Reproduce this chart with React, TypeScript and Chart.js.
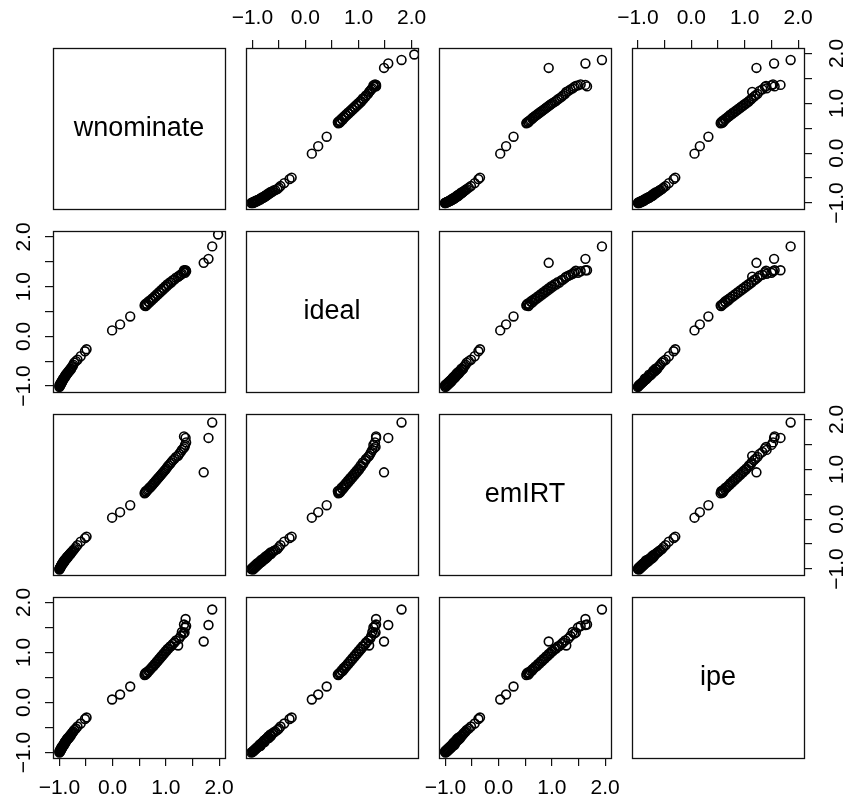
import React, { useEffect, useRef } from 'react';
import { Chart, registerables } from 'chart.js';

Chart.register(...registerables);

// ---- data (one entry per legislator; null = missing) ----
const VARIABLES = ['wnominate', 'ideal', 'emIRT', 'ipe'];

const wnominate = [
  -1.00, -1.00, -0.99, -0.99, -0.98, -0.98, -0.97, -0.97, -0.96, -0.96,
  -0.95, -0.95, -0.94, -0.93, -0.93, -0.92, -0.91, -0.91, -0.90, -0.89,
  -0.89, -0.88, -0.87, -0.86, -0.86, -0.85, -0.84, -0.83, -0.82, -0.81,
  -0.80, -0.79, -0.78, -0.77, -0.75, -0.74, -0.72, -0.69, -0.66, -0.60,
  -0.52, -0.49,
  -0.01, 0.14, 0.33,
  0.60, 0.61, 0.62, 0.63, 0.65, 0.67, 0.69, 0.71, 0.73, 0.75,
  0.77, 0.79, 0.81, 0.83, 0.85, 0.87, 0.89, 0.91, 0.93, 0.95,
  0.97, 0.99, 1.01, 1.03, 1.05, 1.08, 1.10, 1.13, 1.16, 1.19,
  1.23, 1.25, 1.28, 1.30, 1.33, 1.35, 1.36, 1.37, 1.38, 1.34,
  1.98, 1.87, 1.80, 1.71,
];

const ideal = [
  -1.02, -0.99, -1.00, -0.97, -0.98, -0.95, -0.96, -0.93, -0.94, -0.91,
  -0.92, -0.89, -0.90, -0.87, -0.85, -0.86, -0.83, -0.84, -0.81, -0.82,
  -0.79, -0.77, -0.78, -0.75, -0.76, -0.73, -0.74, -0.71, -0.69, -0.70,
  -0.67, -0.65, -0.66, -0.62, -0.60, -0.57, -0.53, -0.50, -0.47, -0.40,
  -0.30, -0.26,
  0.12, 0.24, 0.40,
  0.62, 0.64, 0.61, 0.66, 0.64, 0.70, 0.68, 0.73, 0.72, 0.77,
  0.76, 0.81, 0.80, 0.85, 0.84, 0.89, 0.88, 0.93, 0.92, 0.97,
  0.96, 1.01, 1.00, 1.05, 1.04, 1.09, 1.08, 1.13, 1.14, 1.18,
  1.20, 1.22, 1.24, 1.26, 1.29, 1.32, 1.28, 1.33, 1.31, 1.33,
  2.05, 1.81, 1.56, 1.48,
];

const emIRT = [
  -1.00, -1.01, -0.98, -0.99, -0.96, -0.97, -0.94, -0.95, -0.92, -0.93,
  -0.90, -0.91, -0.88, -0.89, -0.87, -0.85, -0.86, -0.83, -0.84, -0.81,
  -0.82, -0.80, -0.78, -0.79, -0.76, -0.77, -0.74, -0.75, -0.72, -0.71,
  -0.69, -0.70, -0.67, -0.66, -0.64, -0.62, -0.60, -0.56, -0.52, -0.45,
  -0.38, -0.35,
  0.03, 0.14, 0.28,
  0.52, 0.53, 0.56, 0.55, 0.58, 0.60, 0.63, 0.64, 0.67, 0.69,
  0.72, 0.74, 0.77, 0.79, 0.82, 0.84, 0.87, 0.89, 0.92, 0.94,
  0.97, 0.99, 1.02, 1.05, 1.08, 1.11, 1.14, 1.18, 1.21, 1.25,
  1.27, 1.31, 1.35, 1.39, 1.42, 1.45, 1.49, 1.63, 1.54, 1.66,
  null, 1.94, 1.63, 0.94,
];

const ipe = [
  -1.00, -0.98, -0.99, -0.96, -0.97, -0.94, -0.95, -0.92, -0.93, -0.90,
  -0.91, -0.88, -0.89, -0.86, -0.87, -0.84, -0.82, -0.85, -0.80, -0.81,
  -0.78, -0.79, -0.76, -0.74, -0.75, -0.72, -0.73, -0.70, -0.71, -0.68,
  -0.66, -0.67, -0.64, -0.62, -0.60, -0.58, -0.55, -0.52, -0.48, -0.42,
  -0.33, -0.30,
  0.06, 0.16, 0.32,
  0.55, 0.58, 0.56, 0.60, 0.59, 0.63, 0.64, 0.67, 0.69, 0.72,
  0.73, 0.77, 0.78, 0.82, 0.83, 0.87, 0.88, 0.92, 0.93, 0.97,
  0.98, 1.02, 1.03, 1.07, 1.08, 1.12, 1.13, 1.17, 1.20, 1.24,
  1.14, 1.28, 1.33, 1.41, 1.38, 1.40, 1.50, 1.67, 1.53, 1.56,
  null, 1.86, 1.55, 1.22,
];

const SERIES: (number | null)[][] = [wnominate, ideal, emIRT, ipe];

// axis limits per variable
const AXIS_MIN = [-1.12, -1.12, -1.12, -1.11];
const AXIS_MAX = [2.11, 2.12, 2.11, 2.11];

const TICK_VALUES = [-1.0, -0.5, 0.0, 0.5, 1.0, 1.5, 2.0];
const TICK_LABELS = ['\u22121.0', '', '0.0', '', '1.0', '', '2.0'];

// ---- layout ----
const W = 848;
const H = 802;
const COL_LEFT = [53, 246, 439, 632];
const ROW_TOP = [48, 231, 414, 597];
const PANEL_W = 172;
const PANEL_H = 161;
const AX_TOP = 48;
const AX_BOTTOM = 44;
const AX_LEFT = 53;
const AX_RIGHT = 44;
const FONT = '"Liberation Sans", Arial, Helvetica, sans-serif';

function labelFor(v: number) {
  const i = TICK_VALUES.findIndex((t) => Math.abs(t - v) < 1e-9);
  return i >= 0 ? TICK_LABELS[i] : '';
}

const framePlugin = {
  id: 'panelFrame',
  afterDraw(chart: any) {
    const { ctx, chartArea } = chart;
    const opts = chart.options.plugins.panelFrame || {};
    ctx.save();
    ctx.strokeStyle = '#111';
    ctx.lineWidth = 1.3;
    ctx.strokeRect(
      chartArea.left + 0.5,
      chartArea.top + 0.5,
      chartArea.right - chartArea.left,
      chartArea.bottom - chartArea.top
    );
    if (opts.label) {
      ctx.fillStyle = '#000';
      ctx.font = `27px ${FONT}`;
      ctx.textAlign = 'center';
      ctx.textBaseline = 'middle';
      ctx.fillText(
        opts.label,
        (chartArea.left + chartArea.right) / 2,
        (chartArea.top + chartArea.bottom) / 2
      );
    }
    ctx.restore();
  },
};

function axisSize(position: string) {
  if (position === 'top') return AX_TOP;
  if (position === 'bottom') return AX_BOTTOM;
  if (position === 'left') return AX_LEFT;
  return AX_RIGHT;
}

function tickPadding(position: string) {
  if (position === 'top') return 9;
  if (position === 'bottom') return 10;
  if (position === 'left') return 0;
  return 4;
}

function makeScale(axis: 'x' | 'y', varIdx: number, show: boolean, position: string) {
  const min = AXIS_MIN[varIdx];
  const max = AXIS_MAX[varIdx];
  const horizontal = axis === 'x';
  const size = show ? axisSize(position) : 0;
  return {
    type: 'linear',
    min,
    max,
    display: show,
    position,
    afterBuildTicks: (s: any) => {
      s.ticks = TICK_VALUES.filter((t) => t >= min && t <= max).map((t) => ({ value: t }));
    },
    afterFit: (s: any) => {
      if (horizontal) s.height = size;
      else s.width = size;
    },
    grid: {
      display: true,
      drawOnChartArea: false,
      drawTicks: true,
      tickLength: 8,
      color: '#111',
      lineWidth: 1.2,
    },
    border: { display: false },
    ticks: {
      autoSkip: false,
      color: '#000',
      font: { family: FONT, size: 21 },
      padding: tickPadding(position),
      minRotation: horizontal ? 0 : 90,
      maxRotation: horizontal ? 0 : 90,
      crossAlign: horizontal ? 'near' : 'center',
      callback: (v: number) => labelFor(v),
    },
  };
}

function buildConfig(r: number, c: number): any {
  const diag = r === c;
  const showX = !diag && ((r === 0 && c % 2 === 1) || (r === 3 && c % 2 === 0));
  const showY = !diag && ((c === 0 && r % 2 === 1) || (c === 3 && r % 2 === 0));
  const xPos = r === 0 ? 'top' : 'bottom';
  const yPos = c === 0 ? 'left' : 'right';

  const left = COL_LEFT[c];
  const top = ROW_TOP[r];
  const padding = {
    left: left - (showY && yPos === 'left' ? AX_LEFT : 0),
    top: top - (showX && xPos === 'top' ? AX_TOP : 0),
    right: W - (left + PANEL_W) - (showY && yPos === 'right' ? AX_RIGHT : 0),
    bottom: H - (top + PANEL_H) - (showX && xPos === 'bottom' ? AX_BOTTOM : 0),
  };

  const points: { x: number; y: number }[] = [];
  if (!diag) {
    const xs = SERIES[c];
    const ys = SERIES[r];
    for (let k = 0; k < xs.length; k++) {
      const xv = xs[k];
      const yv = ys[k];
      if (xv !== null && yv !== null) points.push({ x: xv, y: yv });
    }
  }
  return {
    type: 'scatter',
    data: {
      datasets: [
        {
          data: points,
          pointStyle: 'circle',
          pointRadius: 4.4,
          pointHoverRadius: 4.4,
          borderColor: '#000',
          backgroundColor: 'rgba(0,0,0,0)',
          borderWidth: 1.6,
          clip: 0,
        },
      ],
    },
    options: {
      responsive: false,
      animation: false,
      devicePixelRatio: 1,
      events: [],
      layout: { padding },
      scales: {
        x: makeScale('x', c, showX, xPos),
        y: makeScale('y', r, showY, yPos),
      },
      plugins: {
        legend: { display: false },
        tooltip: { enabled: false },
        title: { display: false },
        panelFrame: { label: diag ? VARIABLES[r] : '' },
      },
    },
    plugins: [framePlugin],
  };
}

export default function App() {
  const refs = useRef<(HTMLCanvasElement | null)[]>([]);

  useEffect(() => {
    const charts: Chart[] = [];
    for (let r = 0; r < 4; r++) {
      for (let c = 0; c < 4; c++) {
        const el = refs.current[r * 4 + c];
        if (!el) continue;
        charts.push(new Chart(el, buildConfig(r, c)));
      }
    }
    return () => {
      charts.forEach((ch) => ch.destroy());
    };
  }, []);

  return (
    <div
      style={{
        position: 'fixed',
        left: 0,
        top: 0,
        width: W,
        height: H,
        background: '#fff',
        overflow: 'hidden',
      }}
    >
      {Array.from({ length: 16 }).map((_, i) => (
        <canvas
          key={i}
          ref={(el) => {
            refs.current[i] = el;
          }}
          width={W}
          height={H}
          style={{ position: 'absolute', left: 0, top: 0, width: W, height: H }}
        />
      ))}
    </div>
  );
}
